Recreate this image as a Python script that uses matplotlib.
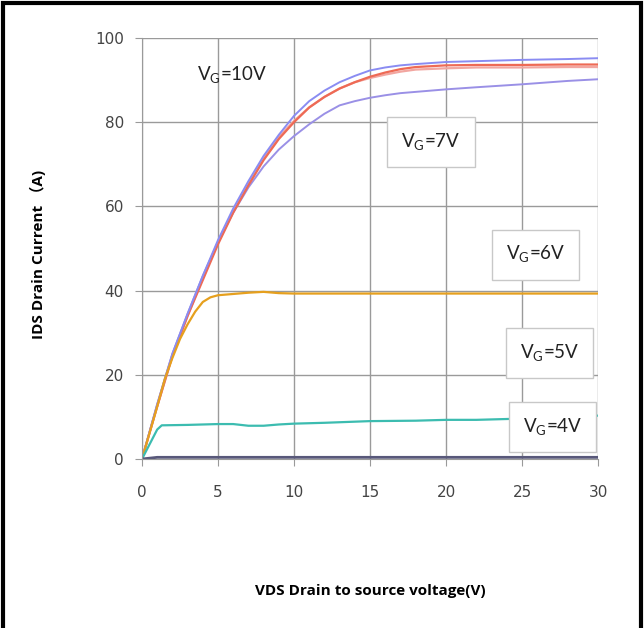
import matplotlib.pyplot as plt
from matplotlib.patches import Rectangle

# Drain current (A) vs drain-source voltage (V)
vds_hi = [0, 1, 2, 3, 4, 5, 6, 7, 8, 9, 10, 11, 12, 13, 14, 15, 16, 17, 18, 20, 22, 25, 28, 30]
ids_blue = [0, 13, 25, 34.5, 43.5, 52, 59.5, 66, 72, 77, 81.5, 85, 87.5, 89.5, 91, 92.3, 93, 93.5, 93.8, 94.3, 94.5, 94.8, 95, 95.2]
ids_red = [0, 12.5, 24.5, 34, 42.5, 51, 58.5, 65, 71, 76, 80, 83.5, 86, 88, 89.5, 90.8, 91.8, 92.6, 93.1, 93.5, 93.6, 93.6, 93.7, 93.7]
ids_pink = [0, 12.5, 24.5, 34, 43, 51.5, 59, 65.5, 71.5, 76.5, 80.3, 83.5, 86, 88, 89.5, 90.5, 91.3, 92, 92.5, 92.8, 93, 93, 93.1, 93.1]
ids_lav = [0, 13, 25, 34.5, 43.5, 51.5, 58.5, 64.5, 69.5, 73.5, 76.7, 79.5, 82, 84, 85, 85.8, 86.4, 86.9, 87.2, 87.8, 88.3, 89, 89.8, 90.2]

vds_orange = [0, 1, 1.5, 2, 2.5, 3, 3.5, 4, 4.5, 5, 6, 7, 8, 9, 10, 15, 20, 25, 30]
ids_orange = [0, 12.5, 19, 24, 28.5, 32, 35, 37.3, 38.4, 38.9, 39.2, 39.5, 39.7, 39.4, 39.3, 39.3, 39.3, 39.3, 39.3]

vds_teal = [0, 0.5, 1, 1.3, 3, 5, 6, 7, 8, 9, 10, 12, 15, 18, 20, 22, 25, 27, 28, 30]
ids_teal = [0, 3.5, 7, 8, 8.1, 8.3, 8.3, 7.9, 7.9, 8.2, 8.4, 8.6, 9.0, 9.1, 9.3, 9.3, 9.6, 9.8, 10, 10.3]

vds_low = [0, 1, 30]
ids_low = [0, 0.4, 0.4]

x_ticks = [0, 5, 10, 15, 20, 25, 30]
y_ticks = [0, 20, 40, 60, 80, 100]

# label text, x, y, boxed
labels = [
    ('10V', 5.9, 91.2, False),
    ('7V', 19.0, 75.3, True),
    ('6V', 25.9, 48.5, True),
    ('5V', 26.8, 25.2, True),
    ('4V', 27.0, 7.6, True),
]

fig = plt.figure(figsize=(6.44, 6.28), dpi=100)
ax = fig.add_axes([0.2205, 0.2691, 0.7081, 0.6704])

ax.plot(vds_hi, ids_lav, color='#9a90e6', lw=1.4)
ax.plot(vds_hi, ids_pink, color='#f2a6a0', lw=1.6)
ax.plot(vds_hi, ids_red, color='#ee6a55', lw=1.6)
ax.plot(vds_hi, ids_blue, color='#8a8cf2', lw=1.4)
ax.plot(vds_orange, ids_orange, color='#e6a01e', lw=1.6)
ax.plot(vds_teal, ids_teal, color='#3cbcb0', lw=1.6)
ax.plot(vds_low, ids_low, color='#58587a', lw=2.0)

ax.set_xlim(0, 30)
ax.set_ylim(0, 100)
ax.set_xticks(x_ticks)
ax.set_yticks(y_ticks)
ax.grid(True, color='#9a9a9a', lw=1.0)
ax.set_axisbelow(True)
for s in ['top', 'right']:
    ax.spines[s].set_visible(False)
for s in ['left', 'bottom']:
    ax.spines[s].set_color('#9a9a9a')
ax.tick_params(colors='#9a9a9a', labelcolor='#444444', labelsize=11, length=5)
ax.tick_params(axis='x', pad=14)
ax.tick_params(axis='y', pad=8)

for txt, x, y, boxed in labels:
    s = r'V$_\mathregular{G}$=' + txt
    kw = {}
    if boxed:
        kw['bbox'] = dict(boxstyle='square,pad=0.75', fc='white', ec='#c8c8c8', lw=1)
    ax.text(x, y, s, ha='center', va='center', fontsize=13.5, family='Lato', color='#222222', **kw)

fig.text(0.059, 0.595, 'IDS Drain Current （A)', rotation=90, ha='center', va='center',
         fontsize=11, fontweight='bold', family=['Open Sans', 'Noto Sans CJK SC'])
fig.text(0.575, 0.059, 'VDS Drain to source voltage(V)', ha='center', va='center',
         fontsize=11, fontweight='bold', family='Open Sans')

# black frame around the figure
fig.patches.append(Rectangle((0.004, -0.02), 0.992, 1.016, transform=fig.transFigure,
                             fill=False, ec='black', lw=3))

fig.savefig('out.png', dpi=100)
